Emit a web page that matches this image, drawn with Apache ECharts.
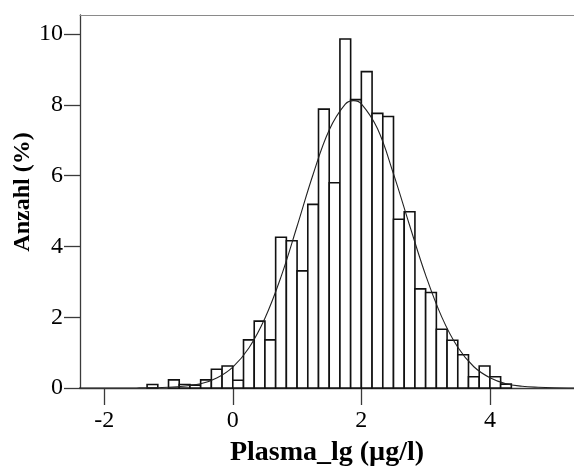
<!DOCTYPE html>
<html>
<head>
<meta charset="utf-8">
<script src="https://cdn.jsdelivr.net/npm/echarts@6/dist/echarts.min.js"></script>
<style>
html,body{margin:0;padding:0;background:#fff;}
#chart{width:574px;height:471px;}
</style>
</head>
<body>
<div id="chart"></div>
<script>
// Histogram bins: left edges (bin width 1/6) and percentages
var binWidth = 1 / 6;
var binLeft = [-8/6, -6/6, -5/6, -4/6, -3/6, -2/6, -1/6, 0, 1/6, 2/6, 3/6, 4/6, 5/6, 6/6, 7/6, 8/6, 9/6, 10/6, 11/6, 12/6, 13/6, 14/6, 15/6, 16/6, 17/6, 18/6, 19/6, 20/6, 21/6, 22/6, 23/6, 24/6, 25/6];
var binPct  = [0.10, 0.23, 0.10, 0.08, 0.23, 0.53, 0.62, 0.22, 1.36, 1.89, 1.36, 4.26, 4.16, 3.31, 5.19, 7.88, 5.80, 9.86, 8.15, 8.94, 7.76, 7.67, 4.77, 4.98, 2.80, 2.70, 1.66, 1.35, 0.94, 0.32, 0.62, 0.32, 0.11];

// Normal curve, points
var curveX = [-2.4, -1.5, -1.0, -0.5, -0.25, 0, 0.25, 0.5, 0.75, 1.0, 1.25, 1.5, 1.75, 1.88, 2.0, 2.25, 2.5, 2.75, 3.0, 3.25, 3.5, 3.75, 4.0, 4.25, 4.5, 4.75, 5.0, 5.31];
var curveY = [0.0, 0.002, 0.02, 0.12, 0.28, 0.59, 1.13, 1.97, 3.14, 4.57, 6.04, 7.29, 8.02, 8.12, 8.03, 7.33, 6.05, 4.6, 3.19, 2.01, 1.15, 0.6, 0.29, 0.12, 0.05, 0.02, 0.006, 0.001];

var xTicks = [-2, 0, 2, 4];
var yTicks = [0, 2, 4, 6, 8, 10];

var barData = binLeft.map(function (l, i) { return [l, l + binWidth, binPct[i]]; });
var lineData = curveX.map(function (x, i) { return [x, curveY[i]]; });

var FONT = '"Liberation Serif", "Times New Roman", serif';
var AXIS = '#3a3a3a';

var chart = echarts.init(document.getElementById('chart'), null, {renderer: 'canvas'});
chart.setOption({
  animation: false,
  backgroundColor: '#fff',
  grid: {left: 80, right: 0, top: 15, bottom: 83, containLabel: false, outerBoundsMode: 'none'},
  xAxis: [{
    type: 'value', min: -2.377, max: 5.308,
    position: 'bottom',
    name: 'Plasma_lg (µg/l)', nameLocation: 'middle', nameGap: 51, nameMoveOverlap: false,
    nameTextStyle: {fontFamily: FONT, fontSize: 28, fontWeight: 'bold', color: '#000'},
    axisLine: {show: true, onZero: false, lineStyle: {color: AXIS, width: 1.3}},
    axisTick: {show: true, length: 17, inside: false, customValues: xTicks, lineStyle: {color: AXIS, width: 1.3}},
    axisLabel: {show: true, margin: 21, customValues: xTicks, fontFamily: FONT, fontSize: 24, color: '#000',
      formatter: function (v) { return String(v); }},
    splitLine: {show: false}
  }, {
    type: 'value', min: -2.377, max: 5.308, position: 'top',
    axisLine: {show: true, onZero: false, lineStyle: {color: '#8a8a8a', width: 1.2}},
    axisTick: {show: false}, axisLabel: {show: false}, splitLine: {show: false}
  }],
  yAxis: {
    type: 'value', min: 0, max: 10.54,
    name: 'Anzahl (%)', nameLocation: 'middle', nameGap: 45, nameMoveOverlap: false,
    nameTextStyle: {fontFamily: FONT, fontSize: 24, fontWeight: 'bold', color: '#000', padding: [0, 0, 0, 19]},
    axisLine: {show: true, onZero: false, lineStyle: {color: AXIS, width: 1.3}},
    axisTick: {show: true, length: 16, customValues: yTicks, lineStyle: {color: AXIS, width: 1.3}},
    axisLabel: {show: true, margin: 17, customValues: yTicks, fontFamily: FONT, fontSize: 24, color: '#000'},
    splitLine: {show: false}
  },
  series: [{
    type: 'custom',
    data: barData,
    encode: {x: [0, 1], y: 2},
    renderItem: function (params, api) {
      var p0 = api.coord([api.value(0), 0]);
      var p1 = api.coord([api.value(1), api.value(2)]);
      return {
        type: 'rect',
        shape: {x: p0[0], y: p1[1], width: p1[0] - p0[0], height: p0[1] - p1[1]},
        style: {fill: '#fff', stroke: '#111', lineWidth: 1.6}
      };
    },
    z: 2
  }, {
    type: 'line',
    data: lineData,
    smooth: 0.4,
    showSymbol: false,
    lineStyle: {color: '#222', width: 1.1},
    z: 3
  }]
});
</script>
</body>
</html>
